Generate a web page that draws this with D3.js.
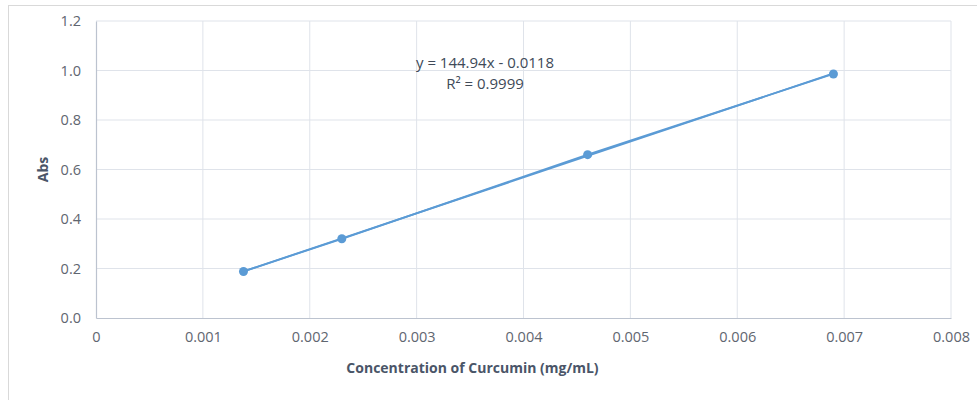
<!DOCTYPE html>
<html><head><meta charset="utf-8">
<script src="https://cdn.jsdelivr.net/npm/d3@7"></script>
<style>
html,body{margin:0;padding:0;background:#fff;}
svg{display:block;font-family:"Open Sans","Liberation Sans",sans-serif;}
</style></head>
<body>
<svg id="c" width="977" height="400"></svg>
<script>
const concentration = [0.00138, 0.0023, 0.0046, 0.0069];
const absorbance = [0.188, 0.320, 0.660, 0.986];
const xTicks = [0, 0.001, 0.002, 0.003, 0.004, 0.005, 0.006, 0.007, 0.008];
const yTicks = [0, 0.2, 0.4, 0.6, 0.8, 1.0, 1.2];
const slope = 144.94, intercept = -0.0118;
const equationLines = ["y = 144.94x - 0.0118", "R² = 0.9999"];

const svg = d3.select("#c");
const m = {l:96, r:26, t:21, b:82};
const W = 977, H = 400;
const x = d3.scaleLinear().domain([0, 0.008]).range([m.l, W - m.r]);
const y = d3.scaleLinear().domain([0, 1.2]).range([H - m.b, m.t]);

// chart border
svg.append("rect").attr("x", 8.5).attr("y", 5.5).attr("width", 975).attr("height", 400)
  .attr("fill", "none").attr("stroke", "#d9d9d9");

// gridlines
const grid = svg.append("g");
grid.selectAll(".gx").data(xTicks.slice(1)).join("line")
  .attr("x1", d => x(d)).attr("x2", d => x(d)).attr("y1", y(0)).attr("y2", y(1.2))
  .attr("stroke", "#dfe3ea").attr("stroke-width", 1);
grid.selectAll(".gy").data(yTicks.slice(1)).join("line")
  .attr("x1", x(0)).attr("x2", x(0.008)).attr("y1", d => y(d)).attr("y2", d => y(d))
  .attr("stroke", "#dfe3ea").attr("stroke-width", 1);

// axes
const xa = svg.append("g").attr("transform", `translate(0,${y(0)})`)
  .call(d3.axisBottom(x).tickValues(xTicks).tickSize(0).tickPadding(14)
    .tickFormat(d => d === 0 ? "0" : d3.format(".3f")(d)));
const ya = svg.append("g").attr("transform", `translate(${x(0)},0)`)
  .call(d3.axisLeft(y).tickValues(yTicks).tickSize(0).tickPadding(15).tickFormat(d3.format(".1f")));
[xa, ya].forEach(a => {
  a.select(".domain").attr("stroke", "#bcc3cf").attr("stroke-width", 1.2);
  a.selectAll("text").attr("fill", "#5f6670").attr("font-size", 14.5)
   .attr("font-family", "'Open Sans','Liberation Sans',sans-serif");
});

// axis titles
svg.append("text").attr("x", 472.5).attr("y", 373)
  .attr("text-anchor", "middle").attr("font-size", 14).attr("font-weight", "bold")
  .attr("fill", "#4a5568").text("Concentration of Curcumin (mg/mL)");
svg.append("text").attr("transform", `translate(48,${(y(0) + y(1.2)) / 2}) rotate(-90)`)
  .attr("text-anchor", "middle").attr("font-size", 14).attr("font-weight", "bold")
  .attr("fill", "#4a5568").text("Abs");

const blue = "#5b9bd5";
// trendline
const xMin = d3.min(concentration), xMax = d3.max(concentration);
svg.append("line").attr("x1", x(xMin)).attr("y1", y(slope * xMin + intercept))
  .attr("x2", x(xMax)).attr("y2", y(slope * xMax + intercept))
  .attr("stroke", blue).attr("stroke-width", 1.8);
// series line
const pts = concentration.map((c, i) => [c, absorbance[i]]);
svg.append("path").datum(pts)
  .attr("d", d3.line().x(d => x(d[0])).y(d => y(d[1])))
  .attr("fill", "none").attr("stroke", blue).attr("stroke-width", 1.8);
svg.selectAll(".pt").data(pts).join("circle")
  .attr("cx", d => x(d[0])).attr("cy", d => y(d[1])).attr("r", 4.5).attr("fill", blue);

// equation
svg.selectAll(".eq").data(equationLines).join("text")
  .attr("x", 485).attr("y", (d, i) => 68 + i * 21)
  .attr("text-anchor", "middle").attr("font-size", 15).attr("fill", "#404a58")
  .text(d => d);
</script>
</body></html>
